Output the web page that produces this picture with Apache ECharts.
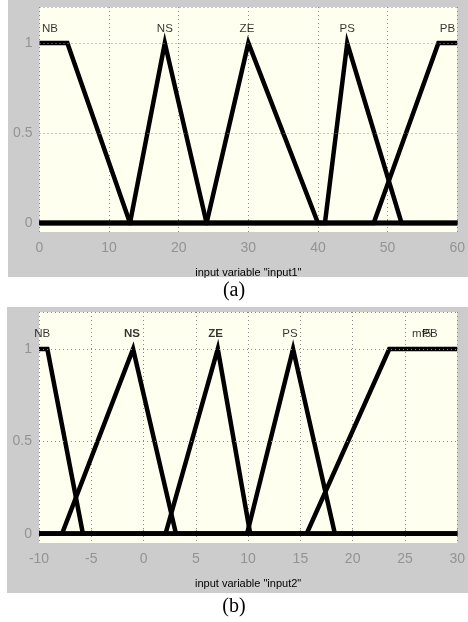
<!DOCTYPE html>
<html><head><meta charset="utf-8">
<script src="https://cdn.jsdelivr.net/npm/echarts@6/dist/echarts.min.js"></script>
<style>html,body{margin:0;padding:0;background:#fff}#c{width:468px;height:622px}</style>
</head><body><div id="c"></div>
<script>
// ---- panel (a): input1 ----
const mf1Labels = ['NB', 'NS', 'ZE', 'PS', 'PB'];
const mf1LabelX = [1.5, 18, 29.8, 44.2, 58.6];
const mf1NB = [[0, 1], [4, 1], [13, 0], [60, 0]];
const mf1NS = [[0, 0], [13, 0], [18, 1], [24, 0], [60, 0]];
const mf1ZE = [[0, 0], [24, 0], [30, 1], [40, 0], [60, 0]];
const mf1PS = [[0, 0], [41, 0], [44.2, 1], [52, 0], [60, 0]];
const mf1PB = [[0, 0], [48, 0], [57.3, 1], [60, 1]];
const x1Range = [0, 60];
const x1Step = 10;
// ---- panel (b): input2 ----
const mf2Labels = ['NB', 'NS', 'ZE', 'PS', 'mf5', 'PB'];
const mf2LabelX = [-9.7, -1.1, 6.9, 14.0, 26.6, 27.4];
const mf2NB = [[-10, 1], [-9.2, 1], [-5.8, 0], [30, 0]];
const mf2NS = [[-10, 0], [-7.8, 0], [-1, 1], [3.1, 0], [30, 0]];
const mf2ZE = [[-10, 0], [2.1, 0], [7.1, 1], [10.2, 0], [30, 0]];
const mf2PS = [[-10, 0], [9.9, 0], [14.3, 1], [18.3, 0], [30, 0]];
const mf2PB = [[-10, 0], [15.6, 0], [23.5, 1], [30, 1]];
const x2Range = [-10, 30];
const x2Step = 5;
// ---- shared ----
const yTickValues = [0, 0.5, 1];
const yRange = [-0.05, 1.2];
const gridLineValues = [0.5, 1, 1.2];
const labelY = 1.08;

const FONT = 'Liberation Sans, Arial, sans-serif';
const GREY_TXT = '#939393';

function xAxisCfg(idx, range, step, name) {
  return {
    type: 'value', gridIndex: idx, min: range[0], max: range[1], interval: step,
    name: name, nameLocation: 'middle', nameGap: 35,
    nameTextStyle: { color: '#000', fontSize: 11, fontFamily: FONT },
    axisLine: { show: true, lineStyle: { color: '#8a8a8a', width: 1 } },
    axisTick: { show: true, inside: true, length: 4, lineStyle: { color: '#8a8a8a' } },
    axisLabel: { color: GREY_TXT, fontSize: 14, fontFamily: FONT, margin: 9 },
    splitLine: { show: true, lineStyle: { color: '#888', type: [1, 3], width: 1 } }
  };
}
function yAxisCfg(idx) {
  return {
    type: 'value', gridIndex: idx, min: yRange[0], max: yRange[1],
    axisLine: { show: false }, axisTick: { show: false },
    axisLabel: { color: GREY_TXT, fontSize: 14, fontFamily: FONT, margin: 7,
      customValues: yTickValues, formatter: v => String(v) },
    splitLine: { show: false }
  };
}
function mfSeries(idx, data) {
  return { type: 'line', xAxisIndex: idx, yAxisIndex: idx, data: data, symbol: 'none',
    lineStyle: { color: '#000', width: 4.5, join: 'miter' }, z: 3, animation: false };
}
function gridSeries(idx) {
  return { type: 'line', xAxisIndex: idx, yAxisIndex: idx, data: [], z: 1, animation: false,
    markLine: { silent: true, symbol: 'none', label: { show: false },
      lineStyle: { color: '#888', type: [1, 3], width: 1 },
      data: gridLineValues.map(v => ({ yAxis: v })) } };
}
function labelSeries(idx, xs, names, boldSet) {
  return { type: 'scatter', xAxisIndex: idx, yAxisIndex: idx, symbolSize: 0, z: 4, animation: false,
    data: xs.map((x, i) => ({ value: [x, labelY], name: names[i],
      label: { fontWeight: boldSet.indexOf(names[i]) >= 0 ? 'bold' : 'normal' } })),
    label: { show: true, position: 'inside', color: '#000', fontSize: 11.5, fontFamily: FONT,
      formatter: p => p.name } };
}

const chart = echarts.init(document.getElementById('c'), null, { renderer: 'canvas' });
chart.setOption({
  backgroundColor: '#ffffff',
  animation: false,
  graphic: [
    { type: 'rect', z: -10, shape: { x: 8, y: 0, width: 460, height: 277 }, style: { fill: '#cccccc' } },
    { type: 'rect', z: -10, shape: { x: 7, y: 307, width: 461, height: 286 }, style: { fill: '#cccccc' } },
    { type: 'text', left: 'center', top: 281, style: { text: '(a)', font: '20px "Liberation Serif", "Times New Roman", serif', fill: '#000' } },
    { type: 'text', left: 'center', top: 597, style: { text: '(b)', font: '20px "Liberation Serif", "Times New Roman", serif', fill: '#000' } }
  ],
  grid: [
    { left: 39.5, top: 7, width: 421.5, height: 225, show: true, backgroundColor: '#ffffef', borderWidth: 0 },
    { left: 39, top: 312, width: 423, height: 231, show: true, backgroundColor: '#ffffef', borderWidth: 0 }
  ],
  xAxis: [
    xAxisCfg(0, x1Range, x1Step, 'input variable "input1"'),
    xAxisCfg(1, x2Range, x2Step, 'input variable "input2"')
  ],
  yAxis: [yAxisCfg(0), yAxisCfg(1)],
  series: [
    gridSeries(0), gridSeries(1),
    mfSeries(0, mf1NB), mfSeries(0, mf1NS), mfSeries(0, mf1ZE), mfSeries(0, mf1PS), mfSeries(0, mf1PB),
    mfSeries(1, mf2NB), mfSeries(1, mf2NS), mfSeries(1, mf2ZE), mfSeries(1, mf2PS), mfSeries(1, mf2PB),
    labelSeries(0, mf1LabelX, mf1Labels, []),
    labelSeries(1, mf2LabelX, mf2Labels, ['NS', 'ZE'])
  ]
});
</script></body></html>
